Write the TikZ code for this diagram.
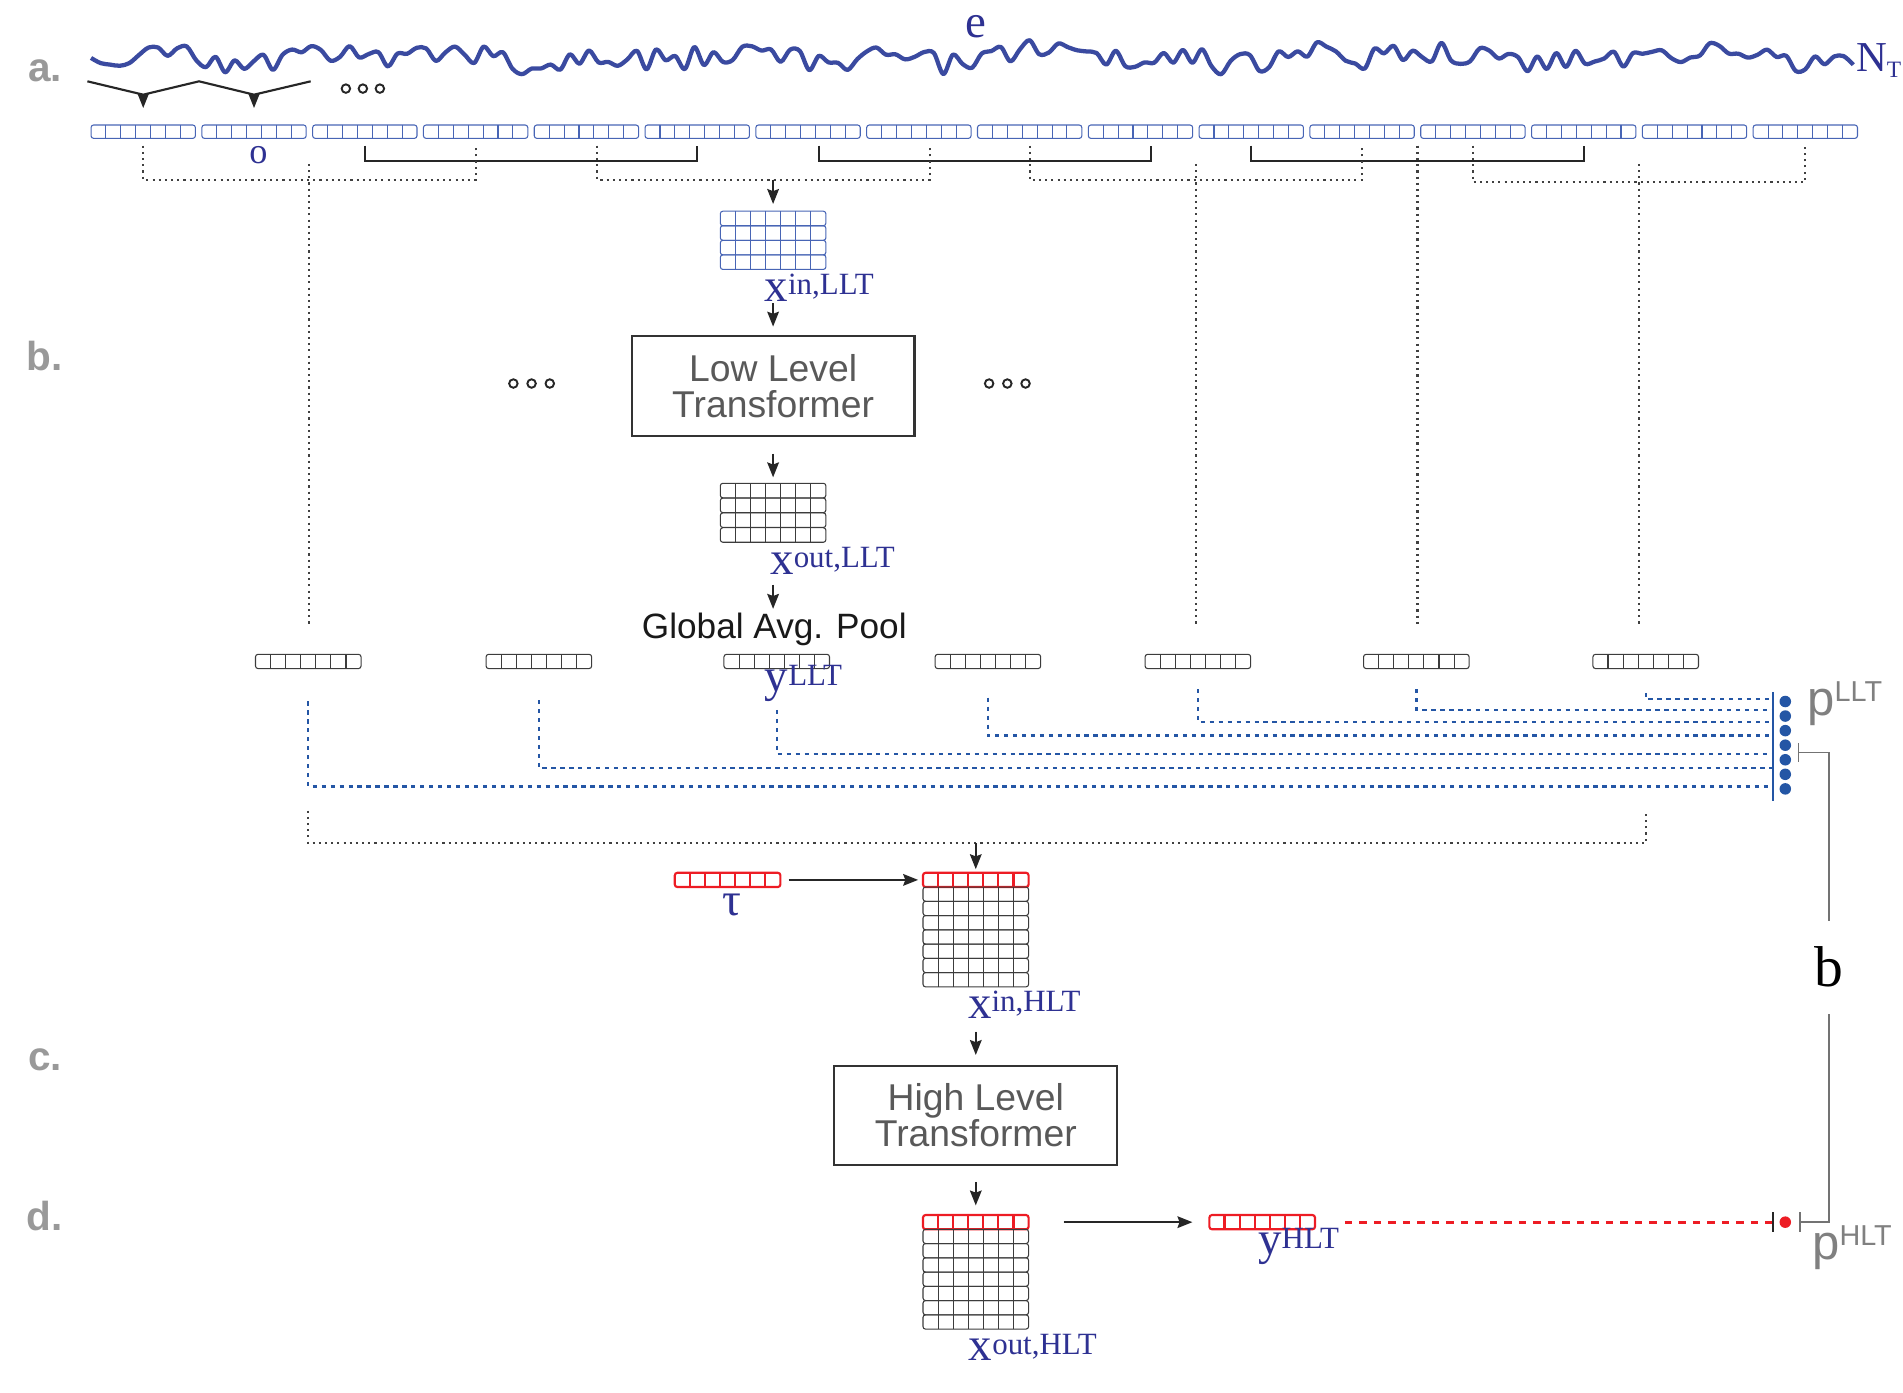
\documentclass[tikz,border=0pt]{standalone}
\usepackage{fontspec}
\setmainfont{Liberation Serif}
\setsansfont{Liberation Sans}
\usetikzlibrary{arrows.meta,calc,positioning}

\definecolor{tokblue}{HTML}{4865B5}
\definecolor{waveblue}{HTML}{3A4AA0}
\definecolor{lblblue}{HTML}{2E3192}
\definecolor{dotblue}{HTML}{2456A5}
\definecolor{hltred}{HTML}{ED1C24}
\definecolor{cellgray}{HTML}{3C3C3C}
\definecolor{secgray}{HTML}{999999}
\definecolor{boxtext}{HTML}{595959}
\definecolor{plabel}{HTML}{808080}

\newcommand\bigsup[2]{{\fontsize{22}{22}\selectfont #1}\raisebox{3pt}{\fontsize{14.5}{14.5}\selectfont #2}}
\newcommand\psup[1]{{\sffamily\fontsize{23}{23}\selectfont p\raisebox{6.5pt}{\fontsize{13.5}{13.5}\selectfont #1}}}

\tikzset{
  cellrow/.style 2 args={draw=#1, line width=#2, rounded corners=1.2pt, minimum width=1.74cm,
    minimum height=0.235cm, inner sep=0pt, outer sep=0pt,
    path picture={\foreach \cc in {1,...,6}
      \draw[#1, line width=#2] ($(path picture bounding box.south west)!\cc/7!(path picture bounding box.south east)$)
        -- ($(path picture bounding box.north west)!\cc/7!(path picture bounding box.north east)$);}},
  arr/.style={-{Stealth[length=7pt,width=5.5pt,inset=1pt]}, line width=0.8pt, draw=black!85, fill=black!85},
  brk/.style={line width=1pt, draw=black!85},
  dotln/.style={line width=1pt, draw=black!75, dash pattern=on 1pt off 1.9pt},
  bdash/.style={line width=1.1pt, draw=dotblue, dash pattern=on 2pt off 2.2pt},
  rdash/.style={line width=1.5pt, draw=hltred, dash pattern=on 3.4pt off 3.4pt},
  tfbox/.style={draw=black!80, line width=1pt, minimum width=4.66cm, minimum height=1.64cm, align=center,
    text=boxtext, font=\sffamily\fontsize{17.5}{17}\selectfont},
  seclbl/.style={text=secgray, font=\sffamily\bfseries\fontsize{19}{19}\selectfont},
  lbl/.style={text=lblblue, inner sep=0pt},
  ring/.style={circle, draw=black!85, line width=0.9pt, minimum size=0.14cm, inner sep=0pt},
  pdot/.style={circle, fill=#1, minimum size=0.19cm, inner sep=0pt},
  gline/.style={line width=0.7pt, draw=black!55},
}

\begin{document}
\begin{tikzpicture}[x=0.02cm, y=-0.02cm]
  \useasboundingbox (0,0) rectangle (1568,1147);
  \node[seclbl] (secA) at (37,58) {a.};
  \node[seclbl] (secB) at (37,293) {b.};
  \node[seclbl] (secC) at (37,873) {c.};
  \node[seclbl] (secD) at (37,1002) {d.};

  % signal and patches
  \pgfmathsetseed{11}
  \draw[waveblue, line width=2pt, line join=round]
    plot[smooth, tension=0.55, domain=75:1527, samples=185] (\x, {47 - 9.5*rand - 3.5*sin(3.1*\x) - 2.5*sin(1.3*\x+40)});
  \node[lbl, font=\fontsize{22}{22}\selectfont, anchor=base, text height=10pt, text depth=0pt] (sig) at (804,31) {e};
  \node[lbl, font=\fontsize{20}{20}\selectfont] (len) at (1548,50) {N\raisebox{-3pt}{\fontsize{11}{11}\selectfont T}};
  \foreach \n in {1,...,16}
    \node[cellrow={tokblue}{0.5pt}, minimum width=1.72cm, minimum height=0.22cm] (tok\n) at ({118+91.3*(\n-1)},108.5) {};
  \coordinate (sp0) at (72,67);
  \coordinate (sp1) at (164,67);
  \coordinate (sp2) at (256,67);
  \draw[brk] (sp0) -- ($(tok1.north)+(0,-25)$) -- (sp1) -- ($(tok2.north)+(0,-25)$) -- (sp2);
  \draw[arr] ($(tok1.north)+(0,-25)$) -- ($(tok1.north)+(0,-14)$);
  \draw[arr] ($(tok2.north)+(0,-25)$) -- ($(tok2.north)+(0,-14)$);
  \foreach \cx [count=\i] in {285,299,313} \node[ring] (elA\i) at (\cx,73) {};
  \node[lbl, font=\fontsize{17}{17}\selectfont] (ovl) at (213,128) {o};

  % windows
  \draw[brk] ($(tok3.south)+(0,6)$) -- ++(0,13) -| ($(tok6.south)+(0,6)$);
  \draw[brk] ($(tok7.south)+(9,6)$) -- ++(0,13) -| ($(tok10.south)+(9,6)$);
  \draw[brk] ($(tok11.south)+(0,6)$) -- ++(0,13) -| ($(tok14.south)+(0,6)$);
  \draw[dotln] ($(tok1.south)+(0,6)$) -- ++(0,28) -| ($(tok4.south)+(0,6)$);
  \draw[dotln] ($(tok5.south)+(9,6)$) -- ++(0,28) -| ($(tok8.south)+(9,6)$);
  \draw[dotln] ($(tok9.south)+(0,6)$) -- ++(0,28) -| ($(tok12.south)+(0,6)$);
  \draw[dotln] ($(tok13.south)+(0,6)$) -- ++(0,30) -| ($(tok16.south)+(0,6)$);
  \coordinate (m1) at ($(tok1.south)!0.5!(tok4.south)+(0,21)$);
  \coordinate (m2) at ($(tok5.south)!0.5!(tok8.south)+(9,34)$);
  \coordinate (m5) at ($(tok9.south)!0.5!(tok12.south)+(0,21)$);
  \coordinate (m6) at ($(tok11.south)!0.5!(tok14.south)+(0,6)$);
  \coordinate (m7) at ($(tok13.south)!0.5!(tok16.south)+(0,21)$);

  % low level transformer
  \foreach \rw in {1,...,4}
    \node[cellrow={tokblue}{0.5pt}, minimum height=0.24cm] (xinL-\rw) at (637,{168+12*\rw}) {};
  \draw[arr, shorten >=3.4pt] (xinL-1.north |- m2) -- (xinL-1.north);
  \node[lbl] (lxinL) at (675,237) {\bigsup{x}{in,LLT}};
  \node[tfbox] (LLT) at (637,318) {Low Level\\Transformer};
  \draw[arr, shorten <=15.9pt, shorten >=4pt] (xinL-4.south) -- (LLT.north);
  \foreach \cx [count=\i] in {423,438,453} \node[ring] (elB\i) at (\cx,316) {};
  \foreach \cx [count=\i] in {815,830,845} \node[ring] (elC\i) at (\cx,316) {};
  \foreach \rw in {1,...,4}
    \node[cellrow={cellgray}{0.5pt}, minimum height=0.24cm] (xoutL-\rw) at (637,{392+12.2*\rw}) {};
  \draw[arr, shorten <=8pt, shorten >=2.8pt] (LLT.south) -- (xoutL-1.north);
  \node[lbl] (lxoutL) at (686,462) {\bigsup{x}{out,LLT}};
  \node[inner sep=0pt, text=black!90, font=\sffamily\fontsize{16.5}{16.5}\selectfont] (gap) at (638,519) {Global Avg. Pool};
  \draw[arr, shorten <=20pt, shorten >=2pt] (xoutL-4.south) -- (xoutL-4.south |- gap.north);

  % pooled tokens
  \foreach \x [count=\i] in {254,444,640,814,987,1167,1356}
    \node[cellrow={cellgray}{0.5pt}] (v\i) at (\x,545) {};
  \node[lbl] (lyLLT) at (662,563) {\bigsup{y}{LLT}};
  \foreach \m/\vn in {m1/v1, m5/v5, m6/v6, m7/v7}
    \draw[dotln, shorten >=13.6pt] (\m) -- (\m |- \vn.north);

  % low level predictions
  \foreach \i in {1,...,7} \node[pdot=dotblue] (pd\i) at (1471,{566+12*\i}) {};
  \coordinate (pl) at ($(pd1)+(-10,0)$);
  \draw[dotblue, line width=1pt] ($(pd1)+(-10,-8)$) -- ($(pd7)+(-10,10)$);
  \node[text=plabel, inner sep=0pt] (pLLT) at (1520,580) {\psup{LLT}};
  \foreach \vn/\st/\lv in {v1/27/648, v2/26/633, v3/34/621, v4/24/606, v5/17/595, v6/17/585, v7/20/576}
    \draw[bdash] ($(\vn.south)+(0,\st)$) |- (pl |- 0,\lv);

  % high level transformer
  \draw[dotln] ($(v1.south)+(0,117)$) -- ++(0,27) -| ($(v7.south)+(0,117)$);
  \coordinate (mh) at ($(v1.south)!0.5!(v7.south)+(0,144)$);
  \node[cellrow={hltred}{1pt}] (xinH-1) at (804,725) {};
  \foreach \rw in {2,...,8}
    \node[cellrow={cellgray}{0.5pt}] (xinH-\rw) at (804,{713.25+11.75*\rw}) {};
  \draw[arr, shorten >=1.7pt] (xinH-1.north |- mh) -- (xinH-1.north);
  \node[cellrow={hltred}{1pt}] (tau) at (599.5,725) {};
  \node[lbl, font=\fontsize{22}{22}\selectfont] (ltau) at (603,746) {τ};
  \draw[arr, shorten <=4pt, shorten >=2.3pt] (tau.east) -- (xinH-1.west);
  \node[lbl] (lxinH) at (844,828) {\bigsup{x}{in,HLT}};
  \node[tfbox] (HLT) at (804,919) {High Level\\Transformer};
  \draw[arr, shorten <=21pt, shorten >=4.5pt] (xinH-8.south) -- (HLT.north);
  \node[cellrow={hltred}{1pt}] (xoutH-1) at (804,1007) {};
  \foreach \rw in {2,...,8}
    \node[cellrow={cellgray}{0.5pt}] (xoutH-\rw) at (804,{995.25+11.75*\rw}) {};
  \draw[arr, shorten <=7.4pt, shorten >=4.5pt] (HLT.south) -- (xoutH-1.north);
  \node[lbl] (lxoutH) at (851,1110) {\bigsup{x}{out,HLT}};
  \node[cellrow={hltred}{1pt}] (yH) at (1040,1007) {};
  \draw[arr, shorten <=16.4pt, shorten >=8pt] (xoutH-1.east) -- (yH.west);
  \node[lbl] (lyH) at (1070,1027) {\bigsup{y}{HLT}};

  % high level prediction and b
  \node[pdot=hltred] (pH) at (1471,1007) {};
  \draw[rdash, shorten <=14pt, shorten >=3.4pt] (yH.east) -- (pH.west);
  \draw[line width=1pt, black!85] ($(pH)+(-10,-8)$) -- ($(pH)+(-10,8)$);
  \node[text=plabel, inner sep=0pt] (pHLT) at (1526,1028) {\psup{HLT}};
  \node[inner sep=0pt, font=\fontsize{27}{27}\selectfont] (bval) at (1507,797) {b};
  \coordinate (bt) at ($(pd4)+(11,6)$);
  \coordinate (bb) at ($(pH)+(12,0)$);
  \draw[gline, shorten >=12pt] (bt) -| (bval.north);
  \draw[gline, shorten >=12pt] (bb) -| (bval.south);
  \draw[gline] ($(bt)+(0,-8)$) -- ($(bt)+(0,8)$);
  \draw[gline] ($(bb)+(0,-8)$) -- ($(bb)+(0,8)$);
\end{tikzpicture}
\end{document}
